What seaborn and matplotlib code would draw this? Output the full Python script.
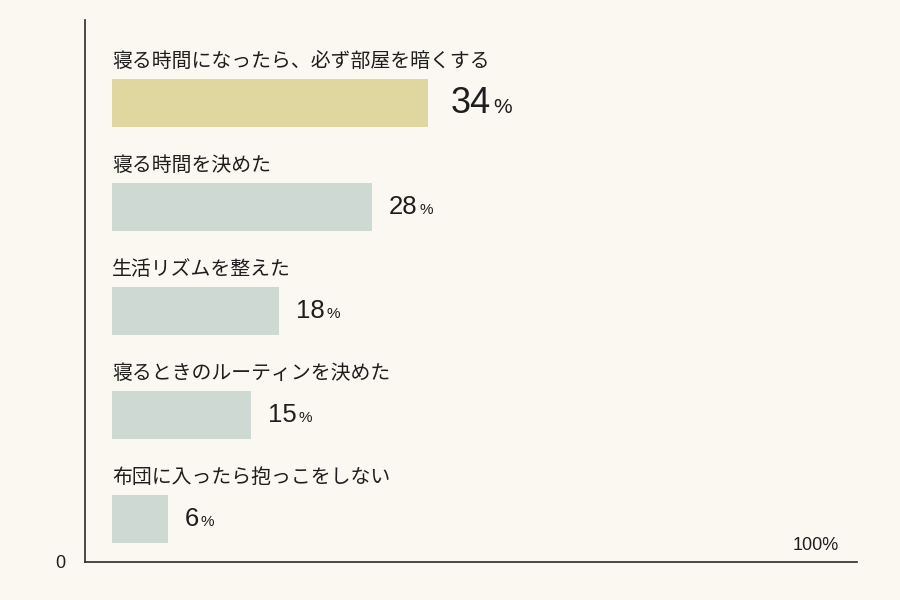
import matplotlib
matplotlib.use("Agg")
import matplotlib.pyplot as plt
import seaborn as sns
import pandas as pd

items = [
    "寝る時間になったら、必ず部屋を暗くする",
    "寝る時間を決めた",
    "生活リズムを整えた",
    "寝るときのルーティンを決めた",
    "布団に入ったら抱っこをしない",
]
values = [34, 28, 18, 15, 6]
bar_colors = ["#e0d6a0", "#cdd9d2", "#cdd9d2", "#cdd9d2", "#cdd9d2"]

BG = "#fbf8f2"
INK = "#1e1e1e"

sns.set_theme(style="white")
plt.rcParams['font.family'] = ['Noto Sans CJK JP', 'DejaVu Sans']

df = pd.DataFrame({"item": items, "pct": values})

fig = plt.figure(figsize=(9, 6), dpi=100, facecolor=BG)
ax = fig.add_axes([0.0944, 0.0633, 0.8578, 0.9034])
ax.set_facecolor(BG)

sns.barplot(data=df, x="pct", y="item", hue="item", palette=bar_colors,
            legend=False, width=0.46, saturation=1, linewidth=0, ax=ax)

ax.set_xlim(-2.9, 80.1)
ax.set_ylim(4.41, -0.8)
ax.set_xticks([])
ax.set_yticks([])
ax.set_xlabel("")
ax.set_ylabel("")
for side in ["top", "right"]:
    ax.spines[side].set_visible(False)
for side in ["left", "bottom"]:
    ax.spines[side].set_color("#2a2a2a")
    ax.spines[side].set_linewidth(1.2)

num_font = ['Liberation Sans', 'DejaVu Sans']
for i, (name, v) in enumerate(zip(items, values)):
    ax.text(0, i - 0.40, name, fontsize=14.3, color=INK, ha="left", va="center")
    big = i == 0
    num = ax.annotate(f"{v}", xy=(v, i), xytext=(16.5 if big else 12, 0),
                      textcoords="offset points", ha="left", va="center",
                      fontsize=26 if big else 18.5, color=INK, family=num_font)
    ax.annotate("%", xy=(1, 0.1), xycoords=num, xytext=(1.5, 0),
                textcoords="offset points", ha="left", va="bottom",
                fontsize=15 if big else 11, color=INK, family=num_font)

fig.text(60 / 900, 1 - 563 / 600, "0", fontsize=13, color=INK, ha="center",
         va="center", family=num_font)
fig.text(816 / 900, 1 - 545 / 600, "100%", fontsize=13, color=INK, ha="center",
         va="center", family=num_font)

fig.savefig("out.png", dpi=100, facecolor=BG)
